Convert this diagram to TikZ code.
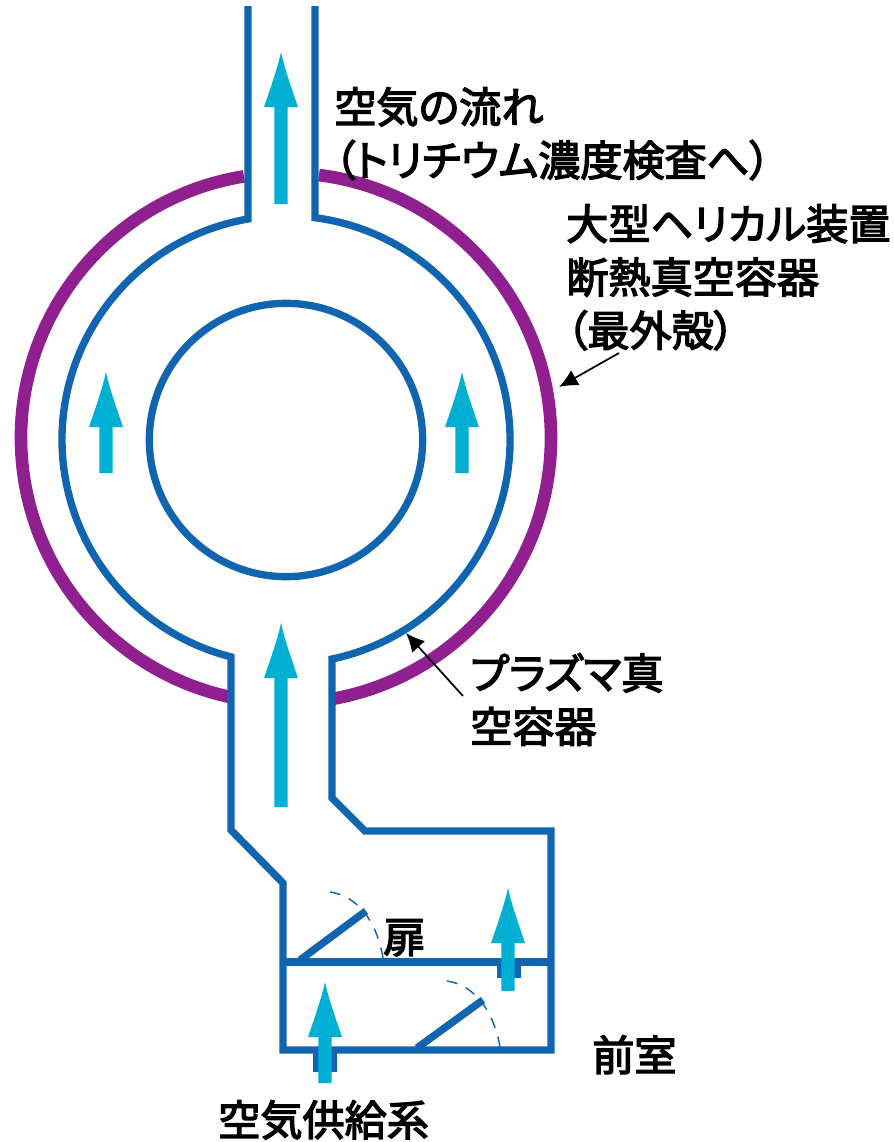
\documentclass[tikz,border=0pt]{standalone}
\usepackage{fontspec}
\usetikzlibrary{arrows.meta}
\newfontfamily\cjk[RawFeature=+palt]{Noto Sans CJK JP}
\definecolor{ductblue}{RGB}{17,100,176}
\definecolor{shellpurple}{RGB}{144,32,144}
\definecolor{flowcyan}{RGB}{0,176,212}
\tikzset{
  duct/.style={draw=ductblue,line width=5.5pt,line join=miter},
  shell/.style={draw=shellpurple,line width=9.5pt},
  swing/.style={draw=ductblue,line width=1.1pt,dash pattern=on 8pt off 7pt},
  door/.style={draw=ductblue,line width=5.6pt},
  port/.style={fill=ductblue},
  leader/.style={draw=black,line width=1.3pt,-{Latex[length=14pt,width=13pt]}},
  lbl/.style={font=\cjk\fontsize{31.6}{40}\selectfont,anchor=north west,inner sep=0pt,align=left,text=black,
    execute at begin node={\special{pdf:code 2 Tr 1.0 w}},
    execute at end node={\special{pdf:code 0 Tr}}},
}
% x, tip y, tail y
\newcommand\flowarrow[3]{%
  \fill[flowcyan] (#1-6.7,#3) -- (#1-6.7,#2+55) -- (#1-17,#2+55)
    .. controls (#1-9,#2+32) and (#1-3,#2+14) .. (#1,#2)
    .. controls (#1+3,#2+14) and (#1+9,#2+32) .. (#1+17,#2+55)
    -- (#1+6.7,#2+55) -- (#1+6.7,#3) -- cycle;}
\begin{document}
\begin{tikzpicture}[x=0.75pt,y=-0.75pt]
\useasboundingbox (0,0) rectangle (893,1142);
\coordinate (sc) at (286,438);
\coordinate (dc) at (286,440);
% outer shell
\draw[shell] ([shift={(82.85:198.75pt)}]sc) arc[start angle=82.85,end angle=-80,radius=198.75pt];
\draw[shell] ([shift={(99.12:198.75pt)}]sc) arc[start angle=99.12,end angle=258.02,radius=198.75pt];
% inner circle
\draw[duct] (dc) circle[radius=102.5pt];
% duct outline
\draw[duct] (248,6) -- (248,219)
  arc[start angle=99.77,end angle=255.8,radius=168pt]
  -- (231,830) -- (283,883) -- (283,1050) -- (551,1050) -- (551,831) -- (365,831) -- (332,798) -- (332,659)
  arc[start angle=-78.15,end angle=82.56,radius=168pt]
  -- (315,6);
\draw[duct] (283,962) -- (551,962);
% doors
\draw[door] (300,960) -- (366,911);
\draw[door] (417,1048) -- (483,1000);
\draw[swing] (330,892) .. controls (358,896) and (377,922) .. (383,958);
\draw[swing] (447,981) .. controls (475,985) and (494,1012) .. (500,1047);
% ports
\fill[port] (497,962) rectangle (521,978);
\fill[port] (313,1050) rectangle (337,1072);
% flow arrows
\flowarrow{281}{52}{204}
\flowarrow{281}{623}{807}
\flowarrow{106}{372}{473}
\flowarrow{462}{372}{473}
\flowarrow{508}{888}{991}
\flowarrow{325}{982}{1083}
% labels
\node[lbl] (flowlabel) at (334,87) {空気の流れ\\（トリチウム濃度検査へ）};
\node[lbl] (lhdlabel) at (566,204) {大型ヘリカル装置\\断熱真空容器\\（最外殻）};
\node[lbl] (plasmalabel) at (470,653) {プラズマ真\\空容器};
\node[lbl] (doorlabel) at (383,919) {扉};
\node[lbl] (anteroom) at (592,1035) {前室};
\node[lbl] (supply) at (218,1100) {空気供給系};
% leaders
\coordinate (shelltail) at (619,353);
\coordinate (shelltip) at (559,387);
\coordinate (plasmatail) at (463,696);
\coordinate (plasmatip) at (406,633);
\draw[leader] (shelltail) -- (shelltip);
\draw[leader] (plasmatail) -- (plasmatip);
\end{tikzpicture}
\end{document}
